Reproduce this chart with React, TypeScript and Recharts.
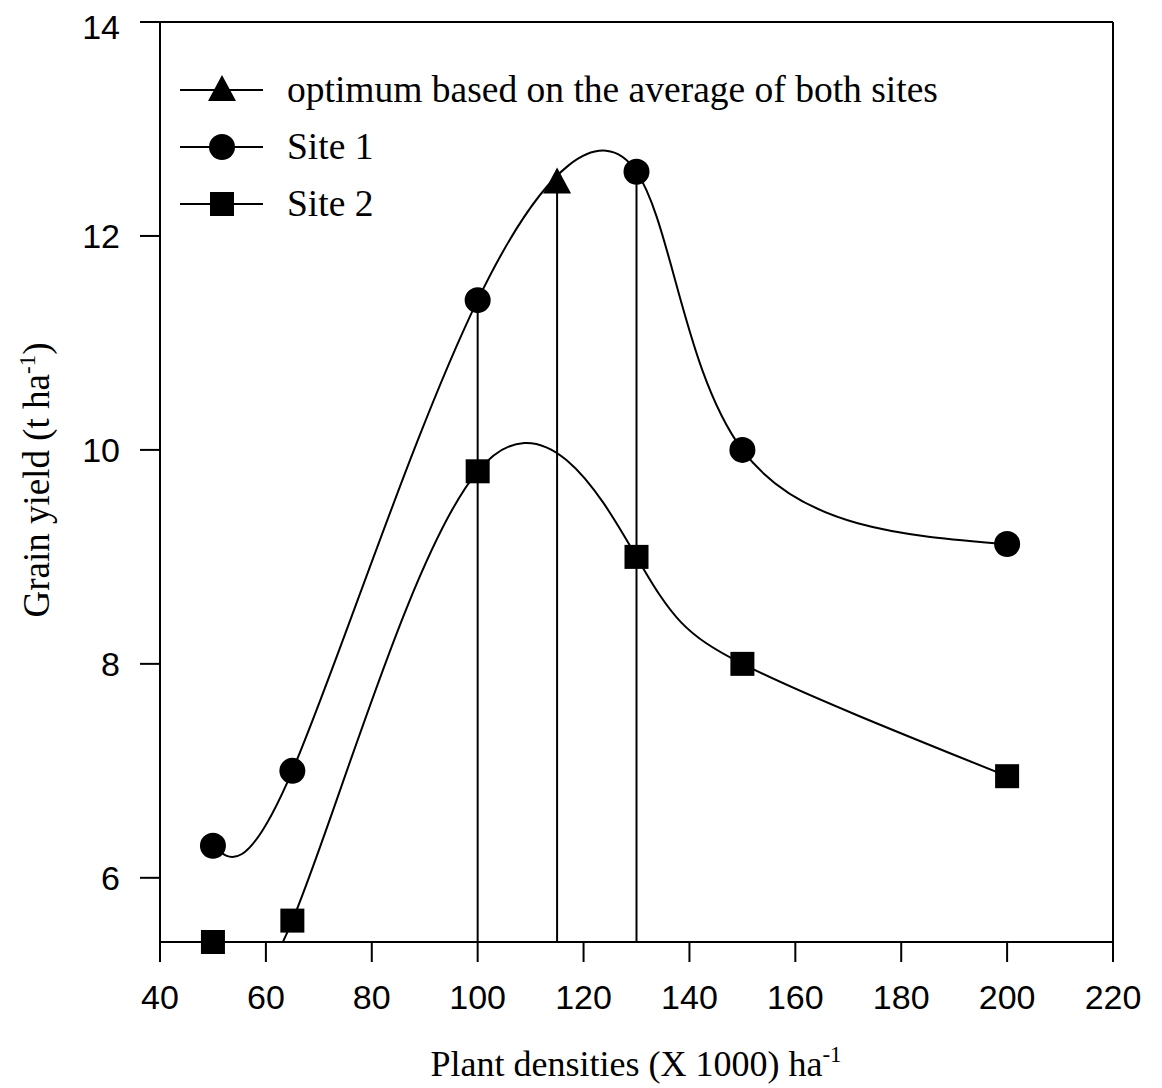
import React from 'react';
import { LineChart, Line, XAxis, YAxis, ReferenceLine, Legend, Label } from 'recharts';

const xTicks = [40, 60, 80, 100, 120, 140, 160, 180, 200, 220];
const yTicks = [6, 8, 10, 12, 14];

const site1 = [
  { x: 50, y: 6.3 },
  { x: 65, y: 7.0 },
  { x: 100, y: 11.4 },
  { x: 130, y: 12.6 },
  { x: 150, y: 10.0 },
  { x: 200, y: 9.12 },
];

const site2 = [
  { x: 50, y: 5.4 },
  { x: 65, y: 5.6 },
  { x: 100, y: 9.8 },
  { x: 130, y: 9.0 },
  { x: 150, y: 8.0 },
  { x: 200, y: 6.95 },
];

const optimum = [{ x: 115, y: 12.5 }];

// drop lines from the points down to the x axis
const dropLines = [
  { x: 100, y: 11.4 },
  { x: 115, y: 12.5 },
  { x: 130, y: 12.6 },
];

const LEGEND = [
  { label: 'optimum based on the average of both sites', shape: 'triangle' },
  { label: 'Site 1', shape: 'circle' },
  { label: 'Site 2', shape: 'square' },
];

const Y_MIN = 5.4;
const Y_MAX = 14;

const SERIF = '"Liberation Serif", "Times New Roman", serif';
const SANS = '"Liberation Sans", Arial, sans-serif';

const Marker = ({ cx, cy, shape }: { cx: number; cy: number; shape: string }) => {
  if (shape === 'circle') return <circle cx={cx} cy={cy} r={13} fill="#000" />;
  if (shape === 'square') return <rect x={cx - 12} y={cy - 12} width={24} height={24} fill="#000" />;
  return <polygon points={`${cx},${cy - 15} ${cx + 14},${cy + 11} ${cx - 14},${cy + 11}`} fill="#000" />;
};

const dotOf = (shape: string) => (props: any) =>
  <Marker key={`${shape}-${props.index}`} cx={props.cx} cy={props.cy} shape={shape} />;

const renderLegend = () => (
  <svg width={840} height={170}>
    {LEGEND.map((item, i) => {
      const y = 20 + i * 57;
      return (
        <g key={item.label}>
          <line x1={0} x2={83} y1={y} y2={y} stroke="#000" strokeWidth={2} />
          <Marker cx={42} cy={y} shape={item.shape} />
          <text x={107} y={y + 12} fontFamily={SERIF} fontSize={37.5} fill="#000">
            {item.label}
          </text>
        </g>
      );
    })}
  </svg>
);

const YTitle = () => (
  <text
    transform="translate(41, 472) rotate(-90)"
    textAnchor="middle"
    fontFamily={SERIF}
    fontSize={37}
    fill="#000"
  >
    Grain yield (t ha
    <tspan dy={-14} fontSize={23}>-1</tspan>
    <tspan dy={14}>)</tspan>
  </text>
);

const XTitle = () => (
  <text x={628} y={1068} textAnchor="middle" fontFamily={SERIF} fontSize={36} fill="#000">
    Plant densities (X 1000) ha
    <tspan dy={-14} fontSize={23}>-1</tspan>
  </text>
);

const App = () => (
  <LineChart width={1154} height={1080} margin={{ top: 14, right: 49, left: 0, bottom: 46 }}>
    <XAxis
      type="number"
      dataKey="x"
      domain={[40, 220]}
      ticks={xTicks}
      allowDataOverflow
      height={100}
      tickSize={20}
      tickMargin={23}
      stroke="#000"
      strokeWidth={2}
      tick={{ fill: '#000', fontSize: 34, fontFamily: SANS }}
    >
      <Label content={<XTitle />} />
    </XAxis>
    <YAxis
      yAxisId="clip"
      type="number"
      domain={[Y_MIN, Y_MAX]}
      ticks={yTicks}
      allowDataOverflow
      width={152}
      tickSize={20}
      tickMargin={20}
      stroke="#000"
      strokeWidth={2}
      tick={{ fill: '#000', fontSize: 34, fontFamily: SANS }}
    >
      <Label content={<YTitle />} />
    </YAxis>
    <YAxis yAxisId="pts" type="number" domain={[Y_MIN, Y_MAX]} hide />

    <ReferenceLine yAxisId="clip" y={Y_MAX} stroke="#000" strokeWidth={2} />
    <ReferenceLine yAxisId="clip" x={220} stroke="#000" strokeWidth={2} />

    {dropLines.map((p) => (
      <ReferenceLine
        key={p.x}
        yAxisId="pts"
        segment={[{ x: p.x, y: Y_MIN }, { x: p.x, y: p.y }]}
        stroke="#000"
        strokeWidth={2}
      />
    ))}

    <Line yAxisId="clip" data={site1} dataKey="y" type="natural" stroke="#000" strokeWidth={2} dot={false} isAnimationActive={false} />
    <Line yAxisId="clip" data={site2} dataKey="y" type="natural" stroke="#000" strokeWidth={2} dot={false} isAnimationActive={false} />

    <Line yAxisId="pts" data={site1} dataKey="y" stroke="none" dot={dotOf('circle')} isAnimationActive={false} />
    <Line yAxisId="pts" data={site2} dataKey="y" stroke="none" dot={dotOf('square')} isAnimationActive={false} />
    <Line yAxisId="pts" data={optimum} dataKey="y" stroke="none" dot={dotOf('triangle')} isAnimationActive={false} />

    <Legend
      layout="horizontal"
      verticalAlign="middle"
      align="center"
      content={renderLegend}
      wrapperStyle={{ top: 62, left: 172, width: 840, height: 170 }}
    />
  </LineChart>
);

export default App;
